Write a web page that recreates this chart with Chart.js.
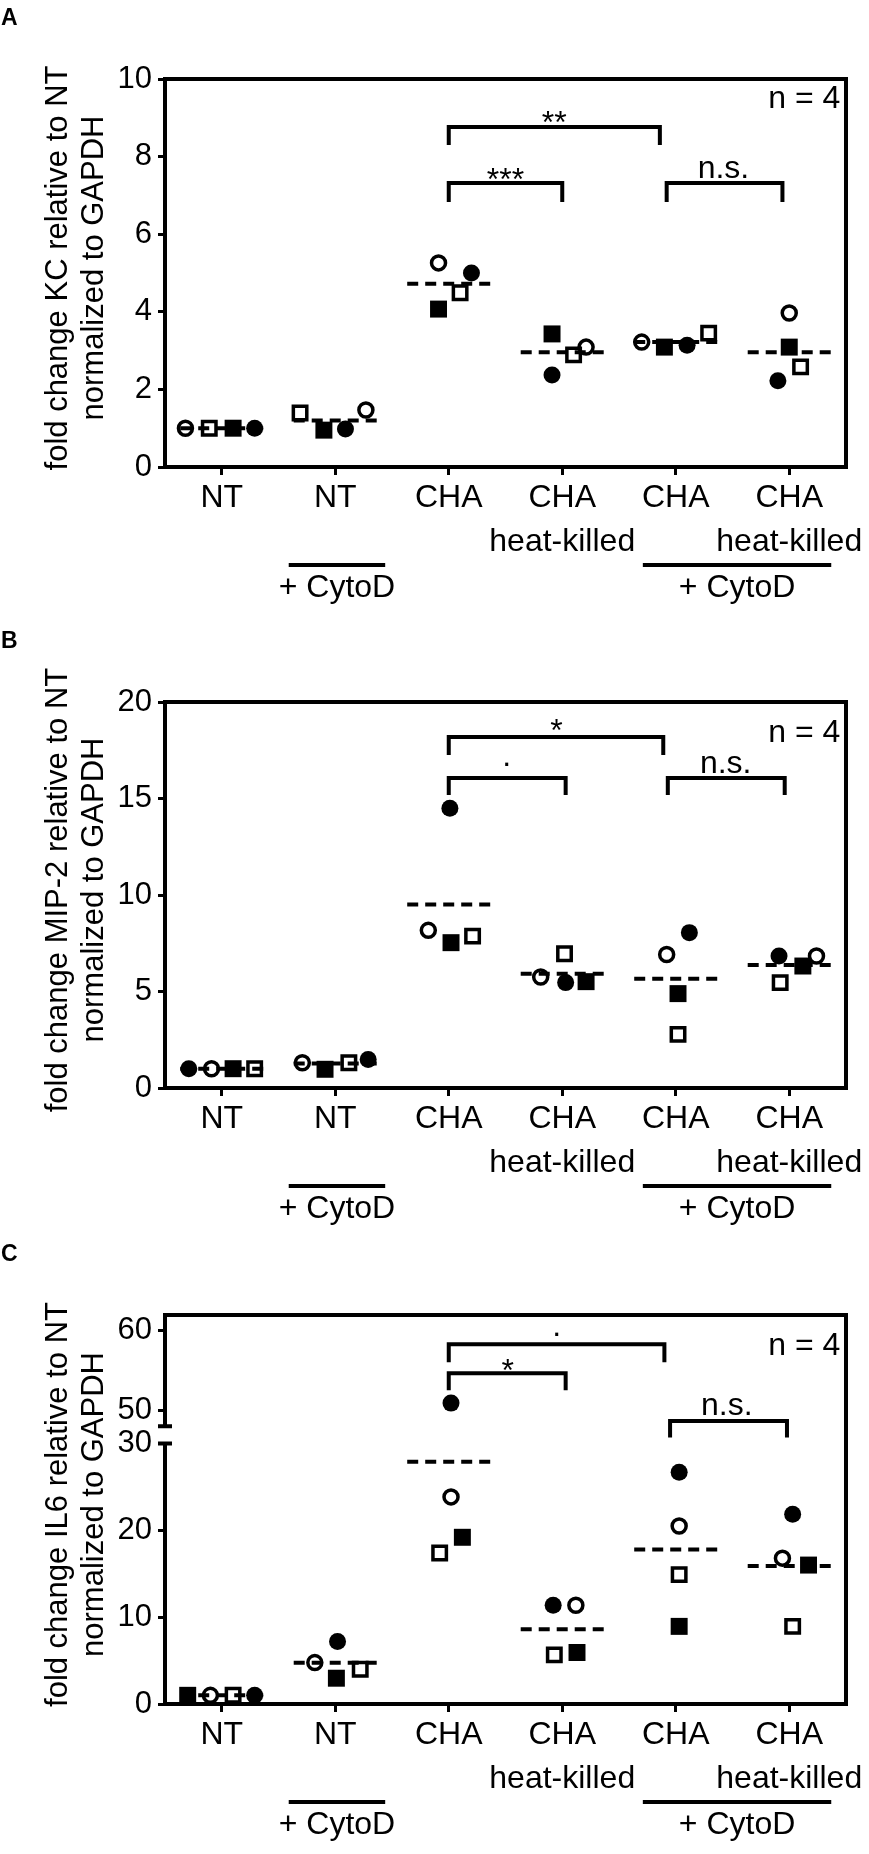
<!DOCTYPE html>
<html>
<head>
<meta charset="utf-8">
<script src="https://cdn.jsdelivr.net/npm/chart.js@4.4.1/dist/chart.umd.min.js"></script>
<style>
  html, body { margin: 0; padding: 0; background: #fff; }
  body { width: 869px; height: 1854px; position: relative; overflow: hidden; }
  canvas { position: absolute; left: 0; }
  .tag { position: absolute; left: 1px; font: bold 23px "Liberation Sans", Arial, sans-serif; line-height: 1; z-index: 2; }
</style>
</head>
<body>
<canvas id="kc" width="869" height="615" style="top:0px"></canvas>
<canvas id="mip" width="869" height="615" style="top:615px"></canvas>
<canvas id="il6" width="869" height="624" style="top:1230px"></canvas>
<div class="tag" style="top:6px">A</div>
<div class="tag" style="top:629px">B</div>
<div class="tag" style="top:1242px">C</div>
<script>
"use strict";

const FONT = '"Liberation Sans", Arial, sans-serif';

const groupLabels = [["NT"], ["NT"], ["CHA"], ["CHA", "heat-killed"], ["CHA"], ["CHA", "heat-killed"]];
const cytoSpans = [[1.59, 2.44], [4.71, 6.37]];
const cytoText = "+ CytoD";

// A - KC (x = group position incl. the scatter offset)
const kcOpenCircle = [1.0, 1.47, 5.26, 3.09, 3.22, 3.97];
const kcOpenCircleX = [0.68, 2.27, 2.91, 4.21, 4.70, 6.00];
const kcFilledSquare = [1.0, 0.95, 4.07, 3.43, 3.09, 3.09];
const kcFilledSquareX = [1.10, 1.90, 2.91, 3.91, 4.90, 6.00];
const kcFilledCircle = [1.0, 0.98, 5.0, 2.37, 3.14, 2.22];
const kcFilledCircleX = [1.29, 2.09, 3.20, 3.91, 5.10, 5.90];
const kcOpenSquare = [1.0, 1.39, 4.49, 2.89, 3.45, 2.58];
const kcOpenSquareX = [0.89, 1.69, 3.10, 4.10, 5.29, 6.10];
const kcMean = [1.0, 1.2, 4.72, 2.96, 3.22, 2.96];
const kcBrackets = [[3.0, 4.86, 8.76, 8.3], [3.0, 4.0, 7.32, 6.83], [4.92, 5.94, 7.32, 6.83]];
const kcMarks = ["**", "***", "n.s."];
const kcMarkX = [3.93, 3.5, 5.42];
const kcMarkY = [8.61, 7.14, 7.45];

// B - MIP-2
const mipOpenCircle = [1.0, 1.31, 8.17, 5.75, 6.92, 6.84];
const mipOpenCircleX = [0.91, 1.71, 2.82, 3.81, 4.92, 6.24];
const mipFilledSquare = [1.0, 0.97, 7.53, 5.51, 4.89, 6.32];
const mipFilledSquareX = [1.10, 1.91, 3.02, 4.21, 5.02, 6.12];
const mipFilledCircle = [1.0, 1.48, 14.49, 5.46, 8.05, 6.84];
const mipFilledCircleX = [0.71, 2.29, 3.01, 4.03, 5.12, 5.91];
const mipOpenSquare = [1.0, 1.31, 7.87, 6.96, 2.78, 5.46];
const mipOpenSquareX = [1.29, 2.12, 3.21, 4.02, 5.02, 5.92];
const mipMean = [1.0, 1.27, 9.51, 5.92, 5.66, 6.37];
const mipBrackets = [[3.0, 4.89, 18.19, 17.25], [3.0, 4.03, 16.06, 15.18], [4.93, 5.96, 16.06, 15.18]];
const mipMarks = ["*", ".", "n.s."];
const mipMarkX = [3.95, 3.51, 5.44];
const mipMarkY = [17.98, 16.68, 16.32];

// C - IL6 (broken axis: 0-30 and 50-60)
const il6OpenCircle = [1.0, 4.77, 23.85, 11.37, 20.5, 16.8];
const il6OpenCircleX = [0.90, 1.82, 3.02, 4.12, 5.03, 5.94];
const il6FilledSquare = [1.0, 2.97, 19.2, 5.93, 8.94, 16.0];
const il6FilledSquareX = [0.70, 2.01, 3.12, 4.13, 5.03, 6.17];
const il6FilledCircle = [1.0, 7.2, 50.9, 11.37, 26.7, 21.85];
const il6FilledCircleX = [1.29, 2.02, 3.02, 3.92, 5.03, 6.03];
const il6OpenSquare = [1.0, 4.0, 17.4, 5.66, 14.9, 8.94];
const il6OpenSquareX = [1.10, 2.22, 2.92, 3.93, 5.03, 6.03];
const il6Mean = [1.0, 4.74, 27.9, 8.6, 17.8, 15.9];
const il6Brackets = [[3.0, 4.9, 58.32, 56.05], [3.0, 4.03, 54.67, 52.52], [4.95, 5.98, 48.65, 46.56]];
const il6Marks = [".", "*", "n.s."];
const il6MarkX = [3.95, 3.52, 5.45];
const il6MarkY = [59.33, 53.66, 49.37];
const il6LowTicks = [0, 10, 20, 30];
const il6HighTicks = [50, 60];

const markerStyles = {
  openCircle: { pointStyle: "circle", pointRadius: 7, pointBorderWidth: 3.5, pointBackgroundColor: "rgba(0,0,0,0)" },
  filledSquare: { pointStyle: "rect", pointRadius: 12, pointBorderWidth: 0, pointBackgroundColor: "#000" },
  filledCircle: { pointStyle: "circle", pointRadius: 8.5, pointBorderWidth: 0, pointBackgroundColor: "#000" },
  openSquare: { pointStyle: "rect", pointRadius: 9.5, pointBorderWidth: 3.5, pointBackgroundColor: "rgba(0,0,0,0)" }
};

function toPoints(xs, ys, keep) {
  let out = [];
  for (let i = 0; i < ys.length; i++) {
    if (keep(ys[i])) out.push({ x: xs[i], y: ys[i] });
  }
  return out;
}

function markerSet(style, xs, ys, breakAt) {
  let low = { data: toPoints(xs, ys, v => breakAt == null || v < breakAt), yAxisID: "y" };
  let sets = [Object.assign(low, markerStyles[style])];
  if (breakAt != null) {
    let high = { data: toPoints(xs, ys, v => v >= breakAt), yAxisID: "yHi" };
    sets.push(Object.assign(high, markerStyles[style]));
  }
  sets.forEach(s => {
    s.pointBorderColor = "#000";
    s.showLine = false;
    s.clip = false;
  });
  return sets;
}

function lineSet(points, axis, dash) {
  return {
    data: points,
    yAxisID: axis,
    showLine: true,
    pointRadius: 0,
    borderColor: "#000",
    borderWidth: 4,
    borderDash: dash || [],
    borderCapStyle: "butt",
    borderJoinStyle: "miter",
    tension: 0,
    clip: false
  };
}

function makeDecor(p) {
  return {
    id: "decor",
    afterDraw(chart) {
      const ctx = chart.ctx;
      const a = chart.chartArea;
      const xs = chart.scales.x;
      ctx.save();
      ctx.strokeStyle = "#000";
      ctx.fillStyle = "#000";
      ctx.lineWidth = 4;
      ctx.lineJoin = "miter";

      // top and right side of the frame
      ctx.beginPath();
      ctx.moveTo(a.left - 2, a.top);
      ctx.lineTo(a.right, a.top);
      ctx.lineTo(a.right, a.bottom + 2);
      ctx.stroke();

      // broken y axis
      if (p.breakAt != null) {
        const lo = chart.scales.y;
        const hi = chart.scales.yHi;
        const yTopLow = lo.getPixelForValue(il6LowTicks[il6LowTicks.length - 1]);
        ctx.beginPath();
        ctx.moveTo(a.left, yTopLow);
        ctx.lineTo(a.left, a.bottom);
        ctx.moveTo(a.left - 7, yTopLow);
        ctx.lineTo(a.left + 7, yTopLow);
        ctx.moveTo(a.left - 7, hi.bottom);
        ctx.lineTo(a.left + 7, hi.bottom);
        ctx.stroke();
      }

      // y title, two rotated lines
      ctx.font = "31px " + FONT;
      ctx.textAlign = "center";
      ctx.textBaseline = "middle";
      const midY = (a.top + a.bottom) / 2 - 5;
      [58, 94].forEach((tx, i) => {
        ctx.save();
        ctx.translate(tx, midY);
        ctx.rotate(-Math.PI / 2);
        ctx.fillText(p.title[i], 0, 0);
        ctx.restore();
      });

      // significance labels and n
      const ys = chart.scales[p.markAxis];
      ctx.font = "32px " + FONT;
      ctx.textBaseline = "alphabetic";
      for (let i = 0; i < p.marks.length; i++) {
        ctx.fillText(p.marks[i], xs.getPixelForValue(p.markX[i]), ys.getPixelForValue(p.markY[i]));
      }
      ctx.textAlign = "right";
      ctx.fillText("n = 4", xs.getPixelForValue(6.45), ys.getPixelForValue(p.nY));

      // + CytoD groups
      ctx.textAlign = "center";
      ctx.textBaseline = "middle";
      cytoSpans.forEach(s => {
        const x1 = xs.getPixelForValue(s[0]);
        const x2 = xs.getPixelForValue(s[1]);
        ctx.beginPath();
        ctx.moveTo(x1, a.bottom + 98);
        ctx.lineTo(x2, a.bottom + 98);
        ctx.stroke();
        ctx.fillText(cytoText, (x1 + x2) / 2, a.bottom + 121);
      });
      ctx.restore();
    }
  };
}

function yScale(min, max, ticks, extra) {
  return Object.assign({
    type: "linear",
    position: "left",
    min: min,
    max: max,
    afterBuildTicks: s => { s.ticks = ticks.map(v => ({ value: v })); },
    afterFit: s => { s.width = 165; },
    ticks: { font: { family: FONT, size: 31 }, color: "#000", padding: 6 },
    grid: { drawOnChartArea: false, drawTicks: true, tickLength: 7, tickWidth: 3, tickColor: "#000" },
    border: { display: true, width: 4, color: "#000" }
  }, extra || {});
}

function makePanel(id, p) {
  let datasets = [];
  datasets = datasets.concat(
    markerSet("openCircle", p.oc[1], p.oc[0], p.breakAt),
    markerSet("filledSquare", p.fs[1], p.fs[0], p.breakAt),
    markerSet("filledCircle", p.fc[1], p.fc[0], p.breakAt),
    markerSet("openSquare", p.os[1], p.os[0], p.breakAt)
  );
  p.mean.forEach((m, i) => {
    datasets.push(lineSet([{ x: i + 1 - 0.366, y: m }, { x: i + 1 + 0.366, y: m }], "y", [11, 7]));
  });
  p.brackets.forEach(b => {
    datasets.push(lineSet([{ x: b[0], y: b[3] }, { x: b[0], y: b[2] }, { x: b[1], y: b[2] }, { x: b[1], y: b[3] }], p.markAxis));
  });

  let scales = {
    x: {
      type: "linear",
      min: 0.5,
      max: 6.5,
      afterBuildTicks: s => { s.ticks = groupLabels.map((g, i) => ({ value: i + 1 })); },
      afterFit: s => { s.height = p.xHeight; },
      ticks: {
        callback: v => groupLabels[Math.round(v) - 1],
        font: { family: FONT, size: 32, lineHeight: 1.375 },
        color: "#000",
        padding: 1,
        maxRotation: 0,
        minRotation: 0,
        autoSkip: false
      },
      grid: { drawOnChartArea: false, drawTicks: true, tickLength: 8, tickWidth: 3, tickColor: "#000" },
      border: { display: true, width: 4, color: "#000" }
    }
  };
  if (p.breakAt != null) {
    scales.y = yScale(0, 32, il6LowTicks, { stack: "left", stackWeight: 2.5, border: { display: false } });
    scales.yHi = yScale(48, 62, il6HighTicks, { stack: "left", stackWeight: 1 });
  } else {
    scales.y = yScale(0, p.yMax, p.yTicks);
  }

  return new Chart(document.getElementById(id).getContext("2d"), {
    type: "scatter",
    data: { datasets: datasets },
    options: {
      responsive: false,
      maintainAspectRatio: false,
      animation: false,
      events: [],
      layout: { padding: { top: p.padTop, right: 23, left: 0, bottom: 0 } },
      plugins: { legend: { display: false }, tooltip: { enabled: false } },
      scales: scales
    },
    plugins: [makeDecor(p)]
  });
}

makePanel("kc", {
  title: ["fold change KC relative to NT", "normalized to GAPDH"],
  oc: [kcOpenCircle, kcOpenCircleX],
  fs: [kcFilledSquare, kcFilledSquareX],
  fc: [kcFilledCircle, kcFilledCircleX],
  os: [kcOpenSquare, kcOpenSquareX],
  mean: kcMean,
  brackets: kcBrackets,
  marks: kcMarks, markX: kcMarkX, markY: kcMarkY, markAxis: "y", nY: 9.25,
  yMax: 10, yTicks: [0, 2, 4, 6, 8, 10],
  padTop: 79, xHeight: 148
});

makePanel("mip", {
  title: ["fold change MIP-2 relative to NT", "normalized to GAPDH"],
  oc: [mipOpenCircle, mipOpenCircleX],
  fs: [mipFilledSquare, mipFilledSquareX],
  fc: [mipFilledCircle, mipFilledCircleX],
  os: [mipOpenSquare, mipOpenSquareX],
  mean: mipMean,
  brackets: mipBrackets,
  marks: mipMarks, markX: mipMarkX, markY: mipMarkY, markAxis: "y", nY: 17.93,
  yMax: 20, yTicks: [0, 5, 10, 15, 20],
  padTop: 87, xHeight: 142
});

makePanel("il6", {
  title: ["fold change IL6 relative to NT", "normalized to GAPDH"],
  oc: [il6OpenCircle, il6OpenCircleX],
  fs: [il6FilledSquare, il6FilledSquareX],
  fc: [il6FilledCircle, il6FilledCircleX],
  os: [il6OpenSquare, il6OpenSquareX],
  mean: il6Mean,
  brackets: il6Brackets,
  marks: il6Marks, markX: il6MarkX, markY: il6MarkY, markAxis: "yHi", nY: 56.9,
  breakAt: 40,
  padTop: 85, xHeight: 150
});
</script>
</body>
</html>
